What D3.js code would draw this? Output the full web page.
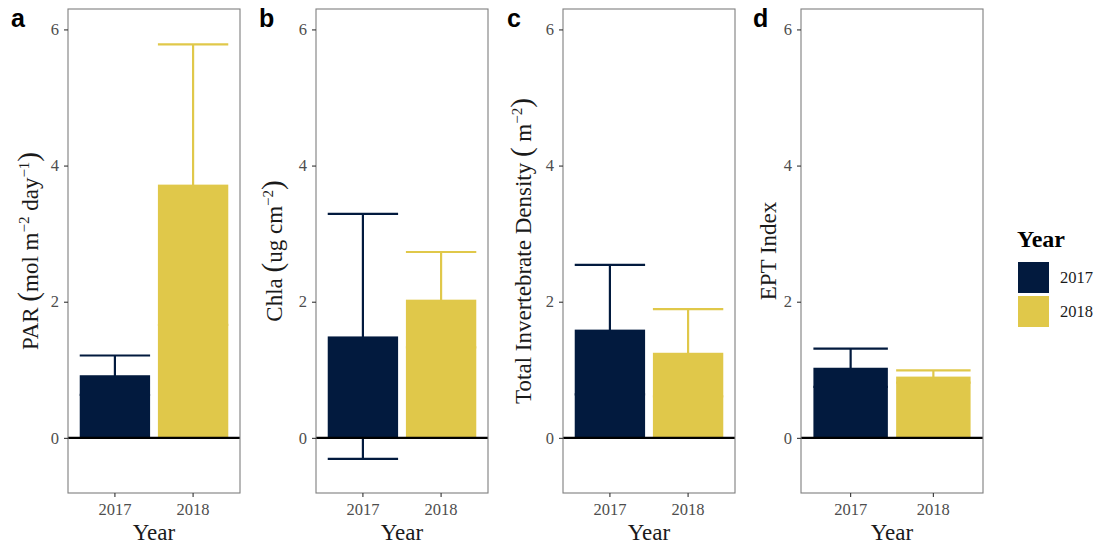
<!DOCTYPE html>
<html>
<head>
<meta charset="utf-8">
<script src="https://cdn.jsdelivr.net/npm/d3@7"></script>
<style>
  body { margin: 0; background: #fff; }
  svg text { font-family: "Liberation Serif", "DejaVu Serif", serif; }
  svg text.tag { font-family: "Liberation Sans", Arial, sans-serif; }
</style>
</head>
<body>
<div id="chart"></div>
<script>
const years = ["2017", "2018"];
const panelTags = ["a", "b", "c", "d"];

// mean and standard error per year, one pair per panel
const parMean = [0.92, 3.72];
const parSe = [0.29, 2.06];
const chlaMean = [1.49, 2.03];
const chlaSe = [1.80, 0.70];
const densityMean = [1.59, 1.25];
const densitySe = [0.95, 0.64];
const eptMean = [1.03, 0.90];
const eptSe = [0.28, 0.09];

const yTicks = [0, 2, 4, 6];

const WIDTH = 1102, HEIGHT = 545;
const NAVY = "#021a3e", GOLD = "#e0c84a";
const color = d3.scaleOrdinal().domain(years).range([NAVY, GOLD]);

// panel boxes (pixel layout, not data)
const layout = [
    {x0: 68, x1: 240, labelX: 38, tagX: 11},
    {x0: 316, x1: 488, labelX: 282, tagX: 259},
    {x0: 563, x1: 735, labelX: 531, tagX: 507},
    {x0: 801, x1: 983, labelX: 776, tagX: 753}
];
const TOP = 9, BOTTOM = 493;

const panels = [
    {mean: parMean, se: parSe},
    {mean: chlaMean, se: chlaSe},
    {mean: densityMean, se: densitySe},
    {mean: eptMean, se: eptSe}
];

const svg = d3.select("#chart").append("svg")
    .attr("width", WIDTH)
    .attr("height", HEIGHT);

const y = d3.scaleLinear().domain([-0.81, 6.30]).range([BOTTOM, TOP]);

// y-axis titles with superscripts
function yTitle(g, i) {
    const t = g.append("text")
        .attr("transform", `translate(${layout[i].labelX},${(TOP + BOTTOM) / 2}) rotate(-90)`)
        .attr("text-anchor", "middle")
        .attr("font-size", 23)
        .attr("fill", "#1a1a1a");
    const sup = (s) => t.append("tspan").attr("dy", -9).attr("font-size", 15).text(s);
    const paren = (s, dy) => t.append("tspan").attr("dy", dy).attr("font-size", 29).text(s);
    if (i === 0) {
        t.append("tspan").text("PAR ");
        paren("(", 0);
        t.append("tspan").text("mol m");
        sup("\u22122");
        t.append("tspan").attr("dy", 9).text(" day");
        sup("\u22121");
        paren(")", 9);
    } else if (i === 1) {
        t.append("tspan").text("Chla ");
        paren("(", 0);
        t.append("tspan").text("ug cm");
        sup("\u22122");
        paren(")", 9);
    } else if (i === 2) {
        t.append("tspan").text("Total Invertebrate Density ");
        paren("(", 0);
        t.append("tspan").text(" m");
        sup("\u22122");
        paren(")", 9);
    } else {
        t.text("EPT Index");
    }
}

panels.forEach((p, i) => {
    const L = layout[i];
    const g = svg.append("g");
    // ggplot discrete axis: categories at 1,2 with range 0.4..2.6, bar width 0.9
    const x = d3.scaleLinear().domain([0.4, 2.6]).range([L.x0, L.x1]);
    const cx = (k) => x(k + 1);
    const bw = x(1.9) - x(1);

    // error bars drawn first so the bar hides the lower half
    const rows = years.map((yr, k) => ({year: yr, k, mean: p.mean[k], se: p.se[k]}));
    const eb = g.append("g").selectAll("g").data(rows).join("g")
        .attr("stroke", d => color(d.year))
        .attr("stroke-width", 2.2);
    eb.append("line")
        .attr("x1", d => cx(d.k)).attr("x2", d => cx(d.k))
        .attr("y1", d => y(d.mean - d.se)).attr("y2", d => y(d.mean + d.se));
    eb.append("line")
        .attr("x1", d => cx(d.k) - bw / 2).attr("x2", d => cx(d.k) + bw / 2)
        .attr("y1", d => y(d.mean + d.se)).attr("y2", d => y(d.mean + d.se));
    eb.append("line")
        .attr("x1", d => cx(d.k) - bw / 2).attr("x2", d => cx(d.k) + bw / 2)
        .attr("y1", d => y(d.mean - d.se)).attr("y2", d => y(d.mean - d.se));

    g.append("g").selectAll("rect").data(rows).join("rect")
        .attr("x", d => cx(d.k) - bw / 2)
        .attr("width", bw)
        .attr("y", d => y(d.mean))
        .attr("height", d => y(0) - y(d.mean))
        .attr("fill", d => color(d.year));

    // zero line
    g.append("line")
        .attr("x1", L.x0).attr("x2", L.x1)
        .attr("y1", y(0)).attr("y2", y(0))
        .attr("stroke", "#000").attr("stroke-width", 2.2);

    // panel border
    g.append("rect")
        .attr("x", L.x0).attr("y", TOP)
        .attr("width", L.x1 - L.x0).attr("height", BOTTOM - TOP)
        .attr("fill", "none").attr("stroke", "#7f7f7f").attr("stroke-width", 1.1);

    // y axis
    const yAxis = g.append("g")
        .attr("transform", `translate(${L.x0},0)`)
        .call(d3.axisLeft(y).tickValues(yTicks).tickSize(4).tickPadding(5).tickFormat(d3.format("d")));
    yAxis.select(".domain").remove();
    yAxis.selectAll(".tick line").attr("stroke", "#333").attr("stroke-width", 1.1);
    yAxis.selectAll(".tick text").attr("fill", "#4d4d4d").attr("font-size", 16.5);

    // x axis
    const xAxis = g.append("g")
        .attr("transform", `translate(0,${BOTTOM})`);
    xAxis.selectAll("line").data(rows).join("line")
        .attr("x1", d => cx(d.k)).attr("x2", d => cx(d.k))
        .attr("y1", 0).attr("y2", 4)
        .attr("stroke", "#333").attr("stroke-width", 1.1);
    xAxis.selectAll("text").data(rows).join("text")
        .attr("x", d => cx(d.k)).attr("y", 22)
        .attr("text-anchor", "middle")
        .attr("font-size", 16.5).attr("fill", "#4d4d4d")
        .text(d => d.year);
    g.append("text")
        .attr("x", (L.x0 + L.x1) / 2).attr("y", 540)
        .attr("text-anchor", "middle")
        .attr("font-size", 23).attr("fill", "#1a1a1a")
        .text("Year");

    yTitle(g, i);

    svg.append("text")
        .attr("class", "tag")
        .attr("x", L.tagX).attr("y", 27)
        .attr("font-weight", "bold").attr("font-size", 25)
        .text(panelTags[i]);
});

// legend
const legend = svg.append("g").attr("transform", "translate(1017,0)");
legend.append("text")
    .attr("x", 0).attr("y", 247)
    .attr("font-size", 24).attr("font-weight", "bold").attr("fill", "#000")
    .text("Year");
legend.selectAll("rect").data(years).join("rect")
    .attr("x", 1).attr("y", (d, k) => 262 + k * 34)
    .attr("width", 31).attr("height", 31)
    .attr("fill", d => color(d));
legend.selectAll("text.lab").data(years).join("text")
    .attr("class", "lab")
    .attr("x", 43).attr("y", (d, k) => 283 + k * 34)
    .attr("font-size", 16.5).attr("fill", "#1a1a1a")
    .text(d => d);
</script>
</body>
</html>
